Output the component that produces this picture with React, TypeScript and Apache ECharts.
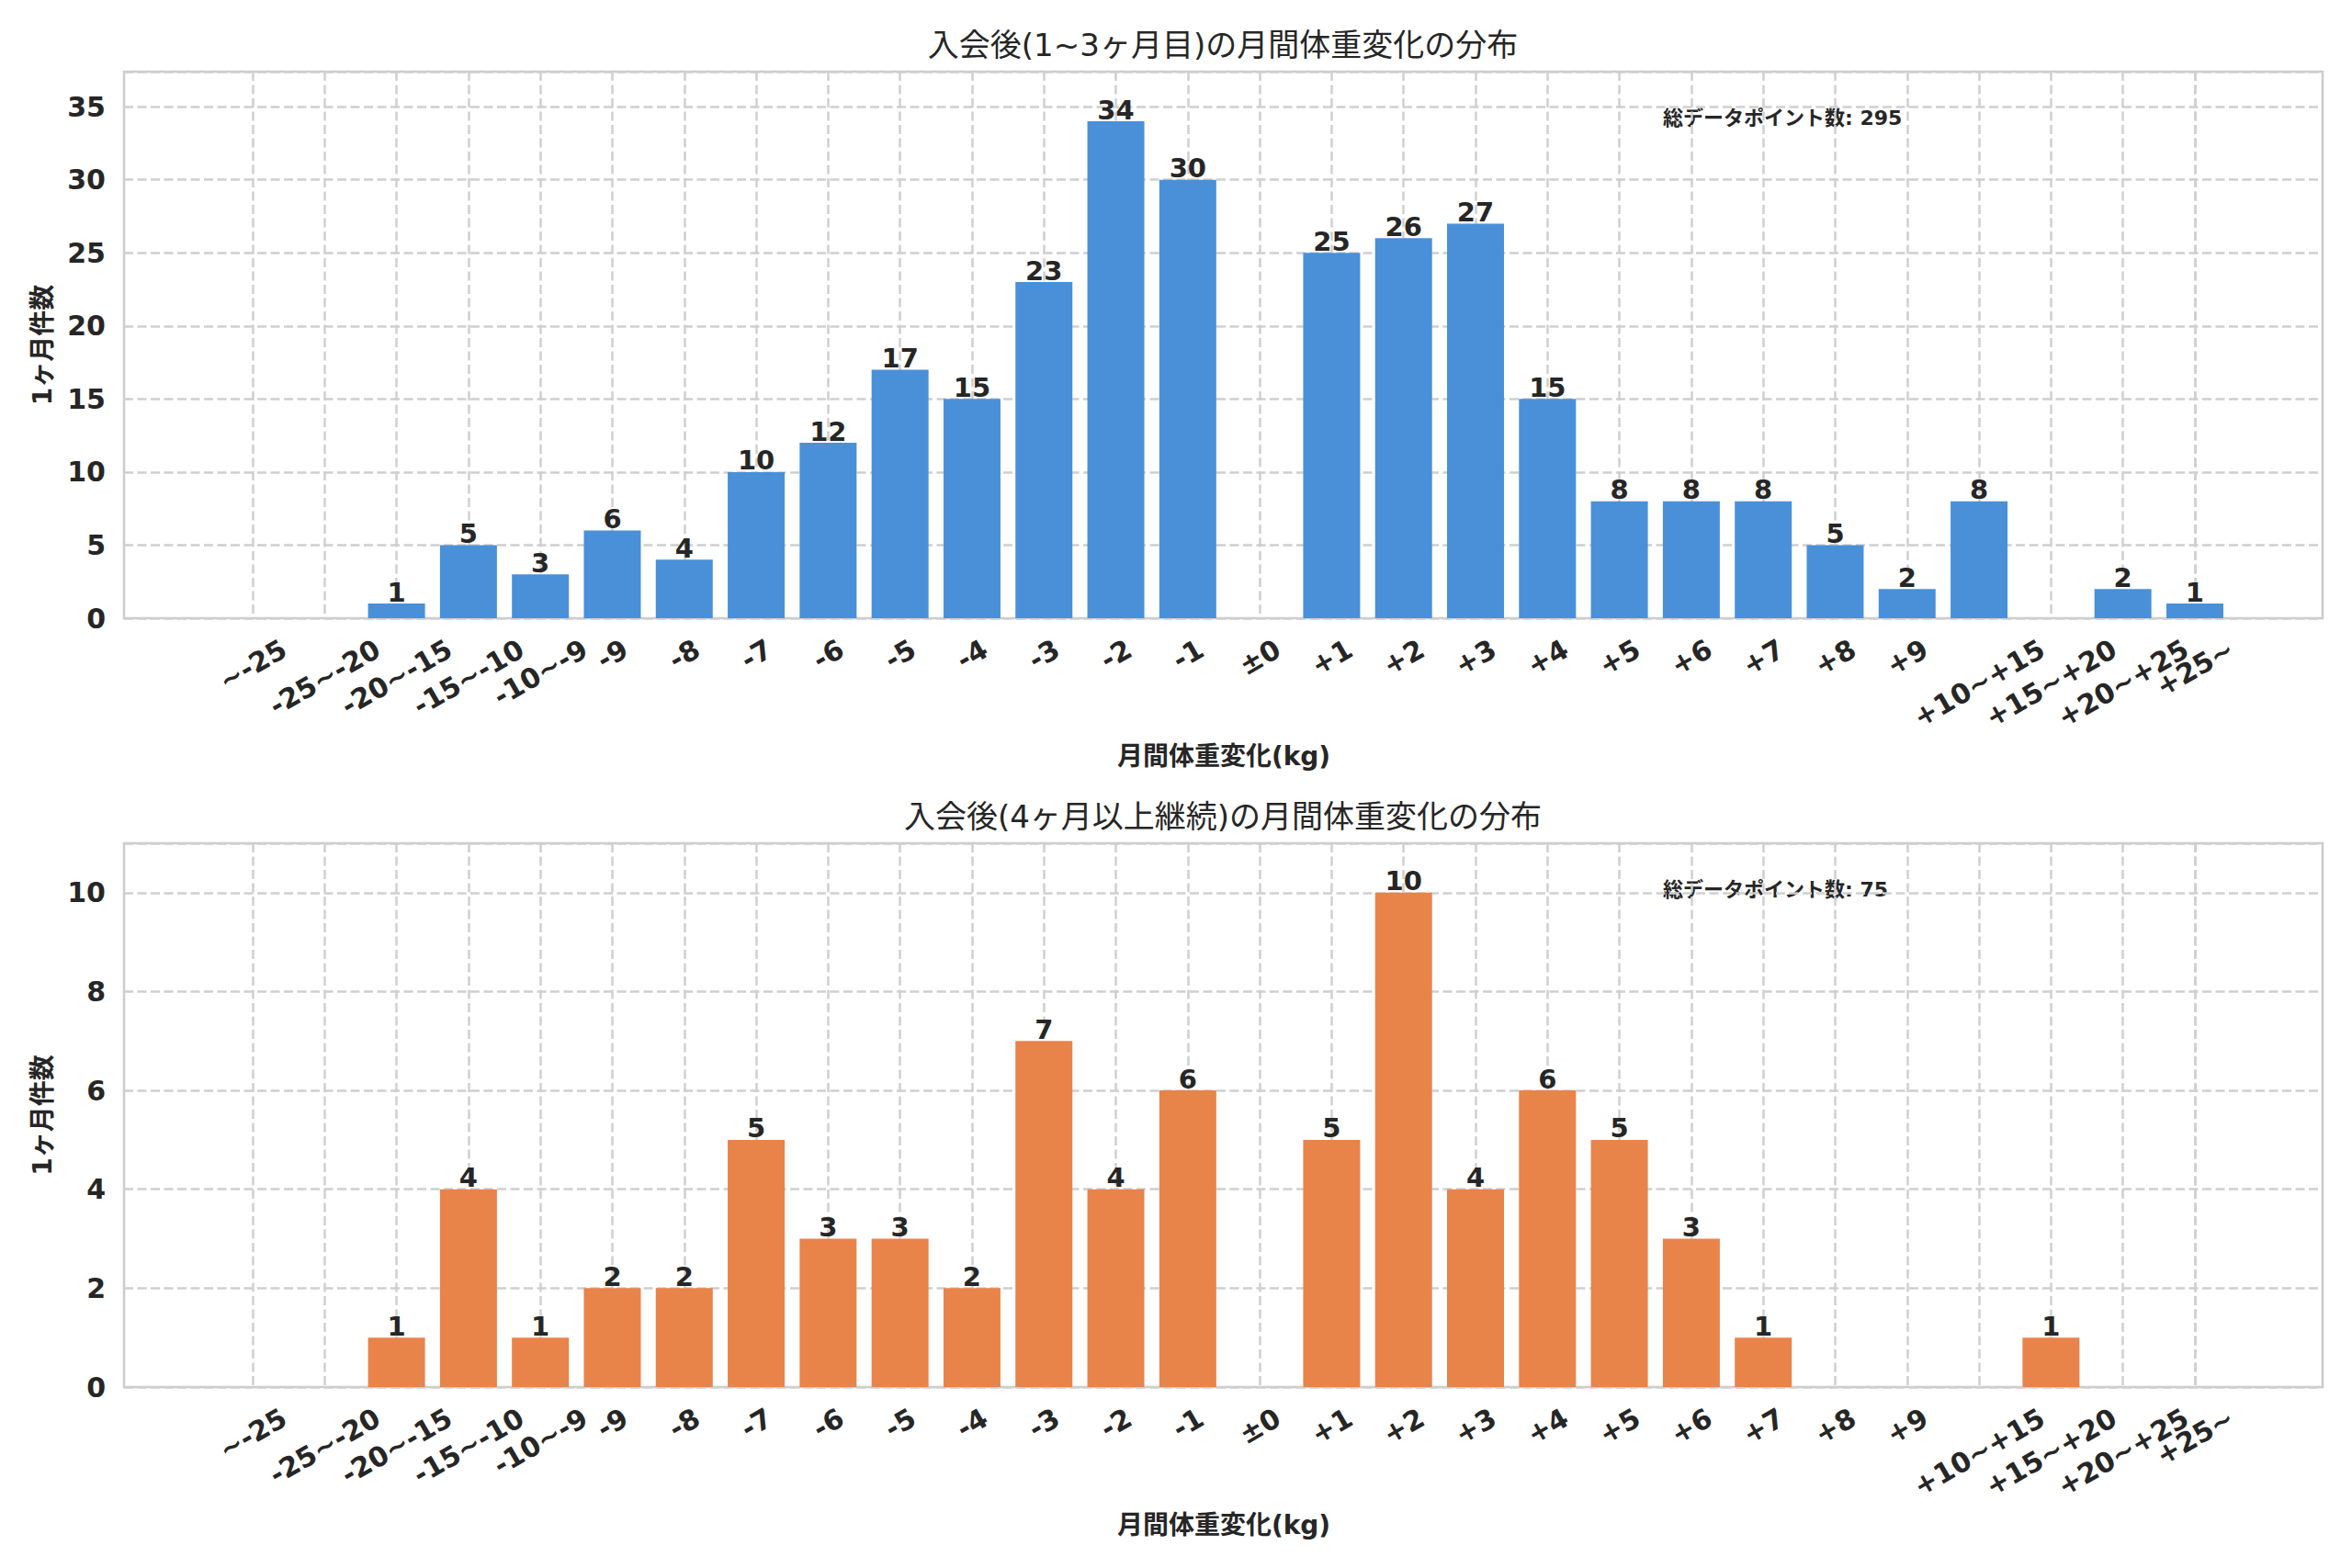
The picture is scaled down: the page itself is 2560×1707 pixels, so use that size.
import { useEffect, useRef } from 'react';
import * as echarts from 'echarts';

// weight-change bins (x tick labels)
const categories = [
  '~-25', '-25~-20', '-20~-15', '-15~-10', '-10~-9', '-9', '-8', '-7', '-6', '-5',
  '-4', '-3', '-2', '-1', '±0', '+1', '+2', '+3', '+4', '+5',
  '+6', '+7', '+8', '+9', '+10~+15', '+15~+20', '+20~+25', '+25~',
];
// counts, months 1-3
const earlyCounts = [0, 0, 1, 5, 3, 6, 4, 10, 12, 17, 15, 23, 34, 30, 0, 25, 26, 27, 15, 8, 8, 8, 5, 2, 8, 0, 2, 1];
// counts, month 4 onwards
const laterCounts = [0, 0, 1, 4, 1, 2, 2, 5, 3, 3, 2, 7, 4, 6, 0, 5, 10, 4, 6, 5, 3, 1, 0, 0, 0, 1, 0, 0];

const panelTitles = ['入会後(1~3ヶ月目)の月間体重変化の分布', '入会後(4ヶ月以上継続)の月間体重変化の分布'];
const totals = [295, 75];
const yMaxes = [37.4, 11];
const ySteps = [5, 2];
const barColors = ['#4A90D9', '#E8834A'];

const xName = '月間体重変化(kg)';
const yName = '1ヶ月件数';
const noteLabel = '総データポイント数';

const FONT = '"DejaVu Sans", "Noto Sans CJK JP", sans-serif';
const TEXT = '#262626';
const GRID_LINE = { color: '#cfcfcf', width: 2.5, type: [10, 4.5] };

const W = 2560;
const H = 1707;

const App = () => {
  const chartDom = useRef<HTMLDivElement | null>(null);

  useEffect(() => {
    if (!chartDom.current) return;
    const myChart = echarts.init(chartDom.current, null, { renderer: 'svg' });

    // matplotlib-like centred rotated tick labels: per-label padding
    const tickSize = 30;
    const ctx = document.createElement('canvas').getContext('2d')!;
    ctx.font = `bold ${tickSize}px ${FONT}`;
    const rich: Record<string, any> = {};
    categories.forEach((c, i) => {
      const w = ctx.measureText(c).width;
      const pr = 0.25 * w + 0.433 * tickSize;
      const pt = Math.max(0, 0.866 * pr - 0.5 * tickSize);
      rich['t' + i] = {
        padding: [pt, pr, 0, 0],
        fontFamily: FONT,
        fontWeight: 'bold',
        fontSize: tickSize,
        color: TEXT,
      };
    });

    const panels = [
      { top: 78, height: 595, data: earlyCounts },
      { top: 918, height: 592, data: laterCounts },
    ];

    const grid: any[] = [];
    const xAxis: any[] = [];
    const yAxis: any[] = [];
    const series: any[] = [];
    const graphic: any[] = [];

    panels.forEach((p, k) => {
      const outer = 2 * k;
      const inner = 2 * k + 1;
      grid.push({
        left: 135, width: 2393, top: p.top, height: p.height,
        show: true, borderColor: '#cccccc', borderWidth: 2.5,
        backgroundColor: 'transparent', outerBoundsMode: 'none',
      });
      grid.push({ left: 275, width: 2114, top: p.top, height: p.height, outerBoundsMode: 'none' });

      xAxis.push({ type: 'value', gridIndex: outer, show: false, min: 0, max: 1 });
      yAxis.push({
        type: 'value',
        gridIndex: outer,
        min: 0,
        max: yMaxes[k],
        interval: ySteps[k],
        name: yName,
        nameLocation: 'middle',
        nameGap: 75,
        nameTextStyle: { fontFamily: FONT, fontWeight: 'bold', fontSize: 28, color: TEXT },
        axisLine: { show: false },
        axisTick: { show: false },
        axisLabel: {
          margin: 20, showMaxLabel: false,
          fontFamily: FONT, fontWeight: 'bold', fontSize: 30, color: TEXT,
        },
        splitLine: { show: true, lineStyle: GRID_LINE },
      });

      xAxis.push({
        type: 'value',
        gridIndex: inner,
        min: 0,
        // tiny overshoot so the (empty) end tick takes the max-label overlap check
        max: categories.length - 1 + 0.0005,
        interval: 1,
        name: xName,
        nameLocation: 'middle',
        nameGap: 136,
        nameTextStyle: { fontFamily: FONT, fontWeight: 'bold', fontSize: 28, color: TEXT },
        axisLine: { show: false },
        axisTick: { show: false },
        splitLine: { show: true, lineStyle: GRID_LINE },
        axisLabel: {
          rotate: 30,
          align: 'center',
          verticalAlign: 'top',
          margin: 18,
          hideOverlap: false,
          showMinLabel: true,
          showMaxLabel: false,
          formatter: (v: number) =>
            Number.isInteger(v) && categories[v] !== undefined ? `{t${v}|${categories[v]}}` : '',
          rich,
        },
      });
      yAxis.push({ type: 'value', gridIndex: inner, min: 0, max: yMaxes[k], show: false });

      series.push({
        type: 'bar',
        xAxisIndex: inner,
        yAxisIndex: inner,
        data: p.data.map((v, i) => [i, v]),
        barWidth: 62,
        clip: false,
        itemStyle: { color: barColors[k], borderWidth: 0 },
        label: {
          show: true,
          position: 'top',
          distance: -2,
          formatter: (q: any) => (q.value[1] > 0 ? String(q.value[1]) : ''),
          fontFamily: FONT,
          fontWeight: 'bold',
          fontSize: 29,
          color: TEXT,
        },
        labelLayout: { hideOverlap: false },
      });

      graphic.push({
        type: 'text',
        x: 1331,
        y: p.top - 29,
        style: {
          text: panelTitles[k],
          font: `34px ${FONT}`,
          fill: TEXT,
          textAlign: 'center',
          textVerticalAlign: 'middle',
        },
      });
      graphic.push({
        type: 'text',
        x: 1810,
        y: p.top + 50,
        style: {
          text: `${noteLabel}: ${totals[k]}`,
          font: `bold 22px ${FONT}`,
          fill: TEXT,
          textAlign: 'left',
          textVerticalAlign: 'middle',
        },
      });
    });

    const option = {
      animation: false,
      backgroundColor: '#ffffff',
      grid,
      xAxis,
      yAxis,
      series,
      graphic,
    };

    myChart.setOption(option);

    return () => {
      myChart.dispose();
    };
  }, []);

  return (
    <div style={{ position: 'fixed', left: 0, top: 0, width: W, height: H, background: '#fff' }}>
      <div ref={chartDom} style={{ width: '100%', height: '100%' }} />
    </div>
  );
};

export default App;
